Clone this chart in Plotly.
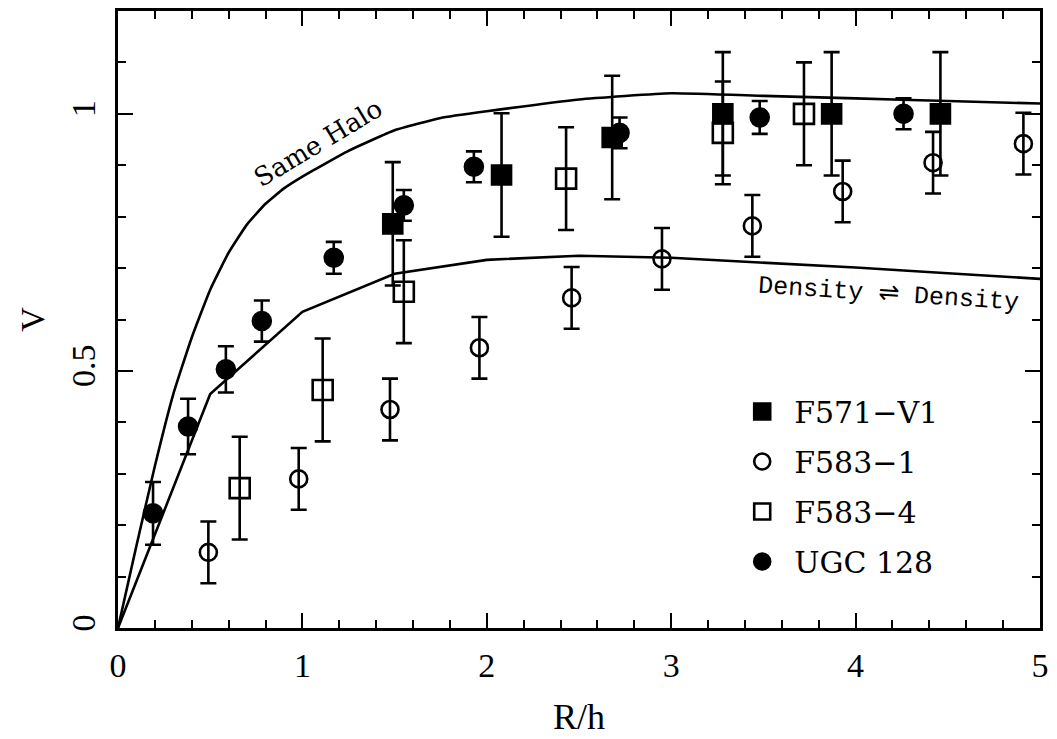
import plotly.graph_objects as go

# Rotation-curve model lines (V vs R/h)
same_halo_r = [0, 0.1, 0.2, 0.3, 0.4, 0.5, 0.6, 0.7, 0.8, 0.9, 1.0, 1.25, 1.5, 1.75,
               2.0, 2.5, 3.0, 3.5, 4.0, 4.5, 5.0]
same_halo_v = [0, 0.16, 0.315, 0.455, 0.565, 0.658, 0.73, 0.785, 0.825, 0.855, 0.878,
               0.928, 0.968, 0.992, 1.005, 1.028, 1.04, 1.035, 1.03, 1.025, 1.02]

density_r = [0, 0.5, 1.0, 1.5, 2.0, 2.5, 3.0, 3.5, 4.0, 4.5, 5.0]
density_v = [0, 0.455, 0.615, 0.689, 0.716, 0.724, 0.72, 0.711, 0.701, 0.69, 0.679]

# Galaxy data
f571_r = [1.49, 2.08, 2.68, 3.28, 3.87, 4.46]
f571_v = [0.786, 0.881, 0.954, 1.0, 1.0, 1.0]
f571_err = [0.12, 0.12, 0.12, 0.12, 0.12, 0.12]

f5831_r = [0.49, 0.98, 1.475, 1.96, 2.46, 2.95, 3.44, 3.93, 4.42, 4.91]
f5831_v = [0.147, 0.29, 0.425, 0.545, 0.642, 0.718, 0.782, 0.849, 0.905, 0.942]
f5831_err = [0.06, 0.06, 0.06, 0.06, 0.06, 0.06, 0.06, 0.06, 0.06, 0.06]

f5834_r = [0.66, 1.11, 1.55, 2.43, 3.28, 3.72]
f5834_v = [0.272, 0.463, 0.654, 0.874, 0.963, 1.0]
f5834_err = [0.1, 0.1, 0.1, 0.1, 0.1, 0.1]

ugc_r = [0.19, 0.38, 0.585, 0.78, 1.17, 1.55, 1.93, 2.72, 3.48, 4.26]
ugc_v = [0.223, 0.392, 0.503, 0.597, 0.72, 0.822, 0.897, 0.963, 0.993, 1.0]
ugc_err = [0.061, 0.054, 0.045, 0.04, 0.031, 0.03, 0.03, 0.03, 0.032, 0.03]

BLACK = "#000000"
TICK_FONT = "Liberation Serif"
LABEL_FONT = "DejaVu Serif"

fig = go.Figure()

# smooth halo curve, piecewise-linear density curve
fig.add_trace(go.Scatter(x=same_halo_r, y=same_halo_v, mode="lines", showlegend=False,
                         line=dict(color=BLACK, width=2.6, shape="spline", smoothing=0.4),
                         hoverinfo="skip"))
fig.add_trace(go.Scatter(x=density_r, y=density_v, mode="lines", showlegend=False,
                         line=dict(color=BLACK, width=2.6), hoverinfo="skip"))


def err(vals):
    return dict(type="data", array=vals, visible=True, color=BLACK,
                thickness=2.6, width=8)


series = [
    ("F571\u2212V1", f571_r, f571_v, f571_err, "square", 19, BLACK),
    ("F583\u22121", f5831_r, f5831_v, f5831_err, "circle-open", 17, BLACK),
    ("F583\u22124", f5834_r, f5834_v, f5834_err, "square-open", 20, BLACK),
    ("UGC 128", ugc_r, ugc_v, ugc_err, "circle", 18, BLACK),
]

for i, (name, r, v, e, sym, size, col) in enumerate(series):
    fig.add_trace(go.Scatter(
        x=r, y=v, mode="markers", name=name, legendgroup=f"g{i}",
        marker=dict(symbol=sym, size=size, color=col,
                    line=dict(color=BLACK, width=2.6)),
        error_y=err(e),
    ))

fig.add_annotation(x=1.085, y=0.944, xref="x", yref="y", text="Same Halo",
                   showarrow=False, textangle=-31,
                   font=dict(family=LABEL_FONT, size=26, color=BLACK))
fig.add_annotation(x=4.176, y=0.648, xref="x", yref="y",
                   text="Density \u21cc Density", showarrow=False, textangle=3.7,
                   font=dict(family="Liberation Mono", size=25, color=BLACK))

axis_common = dict(
    showgrid=False, zeroline=False, showline=True, linecolor=BLACK, linewidth=2.6,
    mirror="ticks", ticks="inside", ticklen=15, tickwidth=2.2, tickcolor=BLACK,
    tickfont=dict(family=TICK_FONT, size=34, color=BLACK), automargin=False,
)

fig.update_xaxes(
    **axis_common, range=[0, 5], tick0=0, dtick=1,
    minor=dict(ticks="inside", dtick=0.2, ticklen=8, tickwidth=2.2, tickcolor=BLACK),
    ticklabelstandoff=5,
    title=dict(text="R/h", font=dict(family=TICK_FONT, size=36, color=BLACK), standoff=22),
)
fig.update_yaxes(
    **axis_common, range=[0, 1.2], tick0=0, dtick=0.5, tickangle=-90,
    minor=dict(ticks="inside", dtick=0.1, ticklen=8, tickwidth=2.2, tickcolor=BLACK),
    ticklabelstandoff=7,
    title=dict(text="V", font=dict(family=TICK_FONT, size=34, color=BLACK), standoff=10),
)

fig.update_layout(
    width=1057, height=739,
    margin=dict(l=118, r=17, t=11, b=111, autoexpand=False),
    paper_bgcolor="white", plot_bgcolor="white",
    legend=dict(x=0.664, y=0.393, xanchor="left", yanchor="top",
                font=dict(family=LABEL_FONT, size=30, color=BLACK),
                bgcolor="rgba(0,0,0,0)", tracegroupgap=8, itemwidth=54,
                traceorder="grouped"),
)

fig.write_html("out.html")
